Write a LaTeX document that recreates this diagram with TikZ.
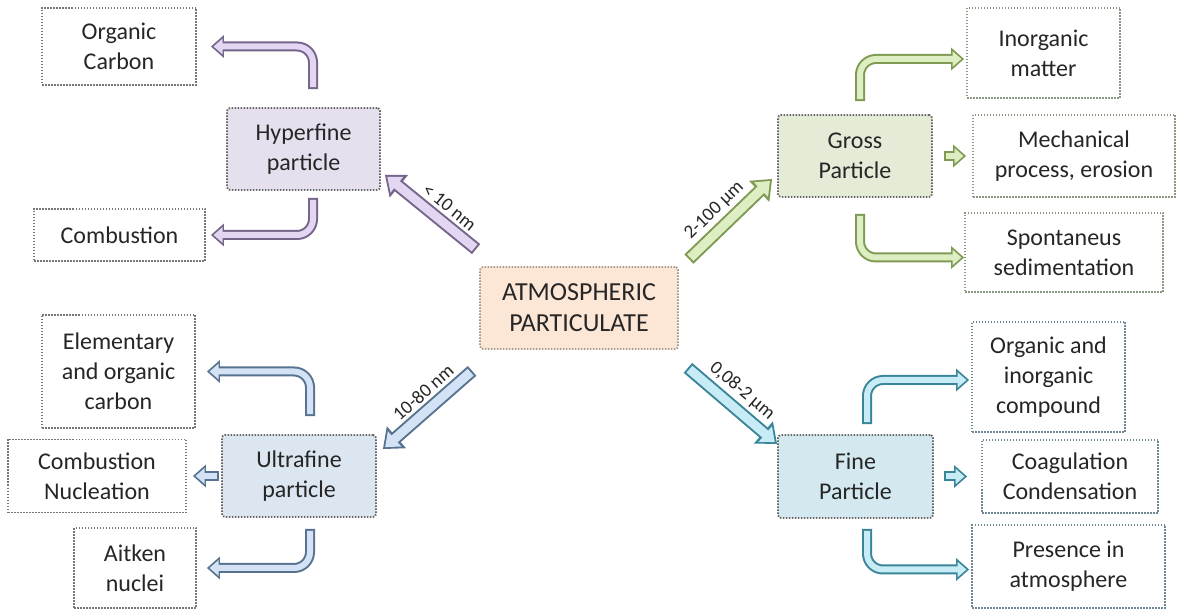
\documentclass[tikz,border=0pt]{standalone}
\usepackage{fontspec}
\setmainfont{Carlito}
\usetikzlibrary{arrows.meta}

\definecolor{purpleline}{HTML}{75658A}
\definecolor{purplebox}{HTML}{E6E0EE}
\definecolor{purplefill}{HTML}{E2D6F2}
\definecolor{greenline}{HTML}{7F9A52}
\definecolor{greenbox}{HTML}{E4ECD8}
\definecolor{greenfill}{HTML}{DCEEC2}
\definecolor{blueline}{HTML}{587390}
\definecolor{bluebox}{HTML}{DCE6F1}
\definecolor{bluefill}{HTML}{D3E3F5}
\definecolor{tealline}{HTML}{3A8598}
\definecolor{tealbox}{HTML}{D4E8F0}
\definecolor{tealfill}{HTML}{C8ECF6}
\definecolor{peachbox}{HTML}{FCE6D6}
\definecolor{peachline}{HTML}{A89A88}
\definecolor{catgray}{HTML}{666666}
\definecolor{leftgray}{HTML}{777777}
\definecolor{greengray}{HTML}{8A9880}
\definecolor{tealgray}{HTML}{6D8892}
\definecolor{textgray}{HTML}{262626}

\begin{document}
\begin{tikzpicture}[x=1pt,y=1pt]
	\tikzstyle{outbox} = [draw=#1, dash pattern=on 1.5pt off 1.5pt, line width=1.8pt, align=center, inner sep=0pt, text=textgray, font=\fontsize{24}{30}\selectfont]
	\tikzstyle{catbox} = [outbox=catgray, fill=#1box, rounded corners=3pt]
	\tikzstyle{flow} = [draw=#1fill, line width=6pt, rounded corners=16pt, shorten <=2pt, shorten >=2.6pt, -{Triangle[length=9pt,width=15pt]}, preaction={draw=#1line, line width=10pt, shorten <=0pt, shorten >=0pt, -{Triangle[length=13pt,width=22pt]}}]
	\tikzstyle{bigflow} = [draw=#1fill, line width=9pt, shorten <=2pt, shorten >=3pt, -{Triangle[length=12.5pt,width=19.5pt]}, preaction={draw=#1line, line width=13pt, shorten <=0pt, shorten >=0pt, -{Triangle[length=18pt,width=28pt]}}]
	\tikzstyle{sizelabel} = [sloped, above=4pt, inner sep=1pt, text=textgray, font=\fontsize{19}{21}\selectfont]
	\useasboundingbox (0,0) rectangle (1177,610);
	\fill[white] (0,0) rectangle (1177,610);

	% left side
	\node [outbox=leftgray, minimum width=154pt, minimum height=77pt] (orgc) at (119,563.5) {Organic\\Carbon};
	\node [catbox=purple, minimum width=153pt, minimum height=82pt] (hyper) at (303.5,461) {Hyperfine\\particle};
	\node [outbox=leftgray, minimum width=171pt, minimum height=52pt] (comb) at (119.5,375) {Combustion};
	\node [outbox=leftgray, minimum width=153pt, minimum height=113pt] (elem) at (118.5,238.5) {Elementary\\and organic\\carbon};
	\node [outbox=leftgray, minimum width=178pt, minimum height=73pt] (nucl) at (97,134) {Combustion\\Nucleation};
	\node [catbox=blue, minimum width=154pt, minimum height=82pt] (ultra) at (299,134) {Ultrafine\\particle};
	\node [outbox=leftgray, minimum width=122pt, minimum height=80pt] (aitken) at (135,42) {Aitken\\nuclei};

	% centre
	\node [catbox=peach, draw=peachline, minimum width=198pt, minimum height=82pt, font=\fontsize{26}{31}\selectfont] (atmo) at (579,302) {ATMOSPHERIC\\PARTICULATE};

	% right side
	\node [catbox=green, minimum width=154pt, minimum height=82pt] (gross) at (855,454) {Gross\\Particle};
	\node [outbox=greengray, minimum width=153pt, minimum height=90pt] (inorg) at (1043.5,557) {Inorganic\\matter};
	\node [outbox=greengray, minimum width=202pt, minimum height=82pt] (mech) at (1074,454) {Mechanical\\process, erosion};
	\node [outbox=greengray, minimum width=198pt, minimum height=79pt] (spont) at (1064,357.5) {Spontaneus\\sedimentation};
	\node [catbox=teal, minimum width=155pt, minimum height=83pt] (fine) at (855.5,133.5) {Fine\\Particle};
	\node [outbox=tealgray, minimum width=153pt, minimum height=110pt] (orginorg) at (1048.5,233) {Organic and\\inorganic\\compound};
	\node [outbox=tealgray, minimum width=176pt, minimum height=73pt] (coag) at (1070,133.5) {Coagulation\\Condensation};
	\node [outbox=tealgray, minimum width=193pt, minimum height=83pt] (pres) at (1068.5,43.5) {Presence in\\atmosphere};

	% size classes
	\draw[bigflow=purple] ([shift={(-3,17)}]atmo.north west) -- ([shift={(4,16)}]hyper.south east) node[sizelabel, pos=0.4] {< 10 nm};
	\draw[bigflow=green] ([shift={(10,7)}]atmo.north east) -- ([shift={(-5,19)}]gross.south west) node[sizelabel, pos=0.45] {2-100 µm};
	\draw[bigflow=blue] ([shift={(-7,-21)}]atmo.south west) -- ([shift={(6,-15)}]ultra.north east) node[sizelabel, pos=0.43] {10-80 nm};
	\draw[bigflow=teal] ([shift={(9,-18)}]atmo.south east) -- ([shift={(0,-10)}]fine.north west) node[sizelabel, pos=0.48] {0,08-2 µm};

	% sources and processes
	\draw[flow=purple] ([shift={(9.5,18)}]hyper.north) |- ([xshift=14]orgc.east);
	\draw[flow=purple] ([shift={(9.5,-7)}]hyper.south) |- ([xshift=5]comb.east);
	\draw[flow=blue] ([shift={(11,18)}]ultra.north) |- ([xshift=11]elem.east);
	\draw[flow=blue] ([xshift=-2]ultra.west) -- ([xshift=6]nucl.east);
	\draw[flow=blue] ([shift={(11,-11)}]ultra.south) |- ([xshift=10]aitken.east);
	\draw[flow=green] ([shift={(5,13)}]gross.north) |- ([shift={(-2,-6)}]inorg.west);
	\draw[flow=green] ([xshift=11]gross.east) -- ([xshift=-6]mech.west);
	\draw[flow=green] ([shift={(5,-16)}]gross.south) |- ([shift={(0,-5)}]spont.west);
	\draw[flow=teal] ([shift={(11.5,10)}]fine.north) |- ([shift={(-2,-3)}]orginorg.west);
	\draw[flow=teal] ([xshift=10]fine.east) -- ([xshift=-14]coag.west);
	\draw[flow=teal] ([shift={(11.5,-10)}]fine.south) |- ([shift={(-2,-3)}]pres.west);
\end{tikzpicture}
\end{document}
